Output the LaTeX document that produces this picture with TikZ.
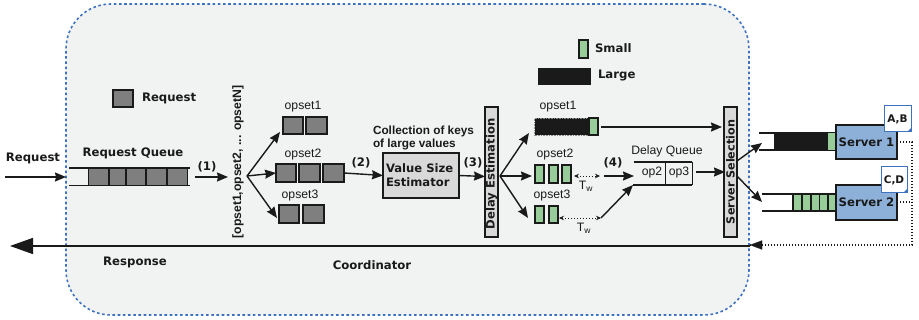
\documentclass[tikz,border=0pt]{standalone}
\usepackage{fontspec}
\setmainfont{DejaVu Sans}
\newfontfamily\lib{Liberation Sans}
\usetikzlibrary{arrows.meta}
\definecolor{ink}{HTML}{1A1A1A}
\definecolor{bgc}{HTML}{F1F3F3}
\definecolor{dashblue}{HTML}{3F72BE}
\definecolor{reqgrey}{HTML}{7F7F7F}
\definecolor{smallg}{HTML}{98CC98}
\definecolor{boxgrey}{HTML}{D9D9D9}
\definecolor{srv}{HTML}{8DB0D8}
\newcommand{\bx}[7]{%
  \pgfmathsetmacro\cxx{(#2+#4)/2}\pgfmathsetmacro\cyy{(#3+#5)/2}%
  \pgfmathsetmacro\wdd{(#4-#2)}\pgfmathsetmacro\htt{(#5-#3)}%
  \node[#6,minimum width=\wdd pt,minimum height=\htt pt] (#1) at (\cxx,\cyy) {#7};}
\tikzset{
  x=1pt,y=-1pt,
  base/.style={inner sep=0pt,outer sep=0pt,text=ink},
  req/.style={base,draw=ink,line width=1.2pt,fill=reqgrey},
  sml/.style={base,draw=ink,line width=1.2pt,fill=smallg},
  lrg/.style={base,fill=ink},
  grey/.style={base,draw=ink,line width=1.2pt,fill=boxgrey},
  server/.style={base,draw=ink,line width=1.3pt,fill=srv,font=\bfseries\fontsize{11.7}{12}\selectfont},
  note/.style={base,draw=dashblue,line width=1pt,fill=white,font=\bfseries\fontsize{10.5}{11}\selectfont},
  lab/.style={base,font=\bfseries\fontsize{11.7}{12}\selectfont},
  ops/.style={base,font=\lib\fontsize{12.2}{13}\selectfont},
  arr/.style={draw=ink,line width=1.4pt,-{Stealth[length=11pt,width=9pt,inset=1pt]}},
  ln/.style={draw=ink,line width=1.3pt},
  dotl/.style={draw=ink,line width=1.1pt,dash pattern=on 1.4pt off 1.6pt},
  twoway/.style={draw=ink,line width=.7pt,dash pattern=on 1.2pt off 1.8pt,{Stealth[length=5pt,width=4.5pt]}-{Stealth[length=5pt,width=4.5pt]}},
}
\begin{document}
\begin{tikzpicture}
\useasboundingbox (0,0) rectangle (919,320);
\bx{coord}{66}{4}{749}{315}{base,draw=dashblue,fill=bgc,line width=1.6pt,dash pattern=on 2.6pt off 2.6pt,rounded corners=45pt}{}

% legend
\bx{legreq}{113}{90}{133}{107}{req}{}
\node[lab,anchor=west] (legreqt) at (142,98) {Request};
\bx{legs}{579}{40}{588}{58}{sml}{}
\node[lab,anchor=west] (legst) at (595,48.5) {Small};
\bx{legl}{538}{68}{591}{85}{lrg}{}
\node[lab,anchor=west] (leglt) at (598,76) {Large};

% request queue
\node[lab] (reqin) at (33,158) {Request};
\coordinate (reqstart) at (5,177);
\coordinate (reqend) at (66,177);
\draw[arr] (reqstart) -- (reqend);
\node[lab] (rqt) at (133,153) {Request Queue};
\coordinate (qa1) at (69,168); \coordinate (qa2) at (190,168);
\coordinate (qb1) at (69,185.5); \coordinate (qb2) at (190,185.5);
\draw[ln] (qa1) -- (qa2);
\draw[ln] (qb1) -- (qb2);
\bx{r1}{88.5}{168}{109}{185.5}{req}{}
\bx{r2}{109}{168}{126}{185.5}{req}{}
\bx{r3}{126}{168}{146}{185.5}{req}{}
\bx{r4}{146}{168}{167}{185.5}{req}{}
\bx{r5}{167}{168}{187.5}{185.5}{req}{}
\node[lab] (l1) at (207,167) {(1)};
\coordinate (a1s) at (195,177); \coordinate (a1e) at (228,177);
\draw[arr] (a1s) -- (a1e);
\node[base,rotate=90,font=\lib\fontsize{12.2}{13}\selectfont] (opsetlist) at (238,162) {\textbf{[opset1,opset2, ... opsetN]}};

% fan 1
\coordinate (f1) at (247,176);
\coordinate (f1a) at (280,132); \coordinate (f1c) at (277,218);
\bx{a1}{283}{117}{303}{134}{req}{}
\bx{a2}{306}{117}{327}{134}{req}{}
\node[ops] (opa) at (303,107) {opset1};
\bx{b1}{276}{164}{296}{182}{req}{}
\bx{b2}{299}{164}{320}{182}{req}{}
\bx{b3}{323}{164}{344}{182}{req}{}
\node[ops] (opb) at (303,155) {opset2};
\bx{c1}{279}{205}{299}{223}{req}{}
\bx{c2}{303}{205}{324}{223}{req}{}
\node[ops] (opc) at (300,196) {opset3};
\draw[arr] (f1) -- (f1a);
\draw[arr] (f1) -- (b1.west);
\draw[arr] (f1) -- (f1c);

% value size estimator
\node[base,anchor=west,font=\bfseries\lib\fontsize{11.8}{12}\selectfont] (coll1) at (373,131) {Collection of keys};
\node[base,anchor=west,font=\bfseries\lib\fontsize{11.8}{12}\selectfont] (coll2) at (373,144) {of large values};
\bx{vse}{383}{153}{459}{198}{grey}{}
\node[base,anchor=west,align=left,font=\bfseries\fontsize{11.6}{14}\selectfont] (vset) at (386,175.5) {Value Size\\Estimator};
\node[lab] (l2) at (361,163) {(2)};
\draw[arr] (b3.east) -- (vse.west);
\bx{de}{485}{107}{498}{237}{grey}{}
\node[base,rotate=90,font=\bfseries\fontsize{11.6}{12}\selectfont] (det) at (491.5,174) {Delay Estimation};
\node[lab] (l3) at (473,163) {(3)};
\coordinate (dein) at (485,176.5);
\draw[arr] (vse.east) -- (dein);

% fan 2
\coordinate (f2) at (500,176);
\coordinate (f2a) at (529,133); \coordinate (f2c) at (528,218); \coordinate (f2b) at (532,176);
\draw[arr] (f2) -- (f2a);
\draw[arr] (f2) -- (f2b);
\draw[arr] (f2) -- (f2c);
\bx{d1}{534.5}{118}{588}{135}{lrg,draw=ink!50,densely dotted,line width=.6pt}{}
\bx{d2}{589}{118}{598}{135}{sml}{}
\node[ops] (opd) at (558,107) {opset1};
\bx{e1}{535}{165}{544}{183}{sml}{}
\bx{e2}{549}{165}{558}{183}{sml}{}
\bx{e3}{562}{165}{571}{183}{sml}{}
\node[ops] (ope) at (555,155) {opset2};
\bx{g1}{535}{206}{544}{223}{sml}{}
\bx{g2}{549}{206}{558}{223}{sml}{}
\node[ops] (opg) at (552,196) {opset3};
\coordinate (tw1a) at (574,176); \coordinate (tw1b) at (600,176);
\coordinate (tw2a) at (559,218); \coordinate (tw2b) at (601,218);
\draw[twoway] (tw1a) -- (tw1b);
\draw[twoway] (tw2a) -- (tw2b);
\node[ops] (tw1) at (586,186) {T\textsubscript{w}};
\node[ops] (tw2) at (584,228) {T\textsubscript{w}};
\node[lab] (l4) at (613,163) {(4)};

% delay queue
\node[ops] (dqt) at (667,151) {Delay Queue};
\coordinate (dqa1) at (634,162); \coordinate (dqa2) at (692,162);
\coordinate (dqb1) at (633,185); \coordinate (dqb2) at (692,185);
\coordinate (dqm1) at (665,162); \coordinate (dqm2) at (665,185);
\draw[ln] (dqa1) -- (dqa2);
\draw[ln] (dqb1) -- (dqb2);
\draw[draw=ink,line width=.8pt] (dqm1) -- (dqm2);
\draw[draw=ink,line width=.8pt] (dqa2) -- (dqb2);
\node[ops] (op2) at (652,173) {op2};
\node[ops] (op3) at (679,173) {op3};
\coordinate (a4s) at (604,176); \coordinate (a4e) at (634,176);
\draw[arr] (a4s) -- (a4e);
\coordinate (a5e) at (633,185);
\draw[arr] (tw2b) -- (a5e);

% server selection
\bx{ss}{724}{107}{737}{237}{grey}{}
\node[base,rotate=90,font=\bfseries\fontsize{11.2}{12}\selectfont] (sst) at (730.5,172) {Server Selection};
\coordinate (d1end) at (601,127); \coordinate (ssin1) at (722,127);
\draw[arr] (d1end) -- (ssin1);
\coordinate (dqout) at (696,172); \coordinate (ssin2) at (725,172);
\draw[arr] (dqout) -- (ssin2);
\coordinate (f3a) at (737,161); \coordinate (f3b) at (737,176);
\coordinate (s1in) at (762,143); \coordinate (s2in) at (762,202);
\draw[arr] (f3a) -- (s1in);
\draw[arr] (f3b) -- (s2in);

% servers
\coordinate (qs1a) at (759,133); \coordinate (qs1ae) at (836,133);
\coordinate (qs1b) at (759,150); \coordinate (qs1be) at (836,150);
\draw[ln] (qs1a) -- (qs1ae);
\draw[ln] (qs1b) -- (qs1be);
\bx{qb}{774}{133}{828}{150}{lrg}{}
\bx{qg}{828}{133}{836}{150}{base,fill=smallg}{}
\coordinate (qs2a) at (762,194); \coordinate (qs2ae) at (836,194);
\coordinate (qs2b) at (762,211); \coordinate (qs2be) at (836,211);
\draw[ln] (qs2a) -- (qs2ae);
\draw[ln] (qs2b) -- (qs2be);
\bx{h1}{793}{194}{802}{211}{sml}{}
\bx{h2}{802}{194}{811}{211}{sml}{}
\bx{h3}{811}{194}{819.5}{211}{sml}{}
\bx{h4}{819.5}{194}{828}{211}{sml}{}
\bx{h5}{828}{194}{836}{211}{sml}{}
\bx{s1}{836}{125}{897}{159}{server}{Server 1}
\bx{s2}{836}{185}{897}{220}{server}{Server 2}
\bx{n1}{884}{106}{911}{132}{note}{A,B}
\bx{n2}{881}{167}{907}{193}{note}{C,D}
\fill[dashblue] (n1.south east) -- ++(0,-4) -- ++(-4,4) -- cycle;
\fill[dashblue] (n2.south east) -- ++(0,-4) -- ++(-4,4) -- cycle;

% return paths
\coordinate (ret) at (912,142);
\coordinate (retj) at (912,202);
\coordinate (retb) at (912,245);
\coordinate (rettip) at (750,245);
\coordinate (resp0) at (750,246);
\coordinate (resp1) at (10,246);
\draw[dotl] (s1.east |- ret) -- (ret) -- (retb) -- (rettip);
\draw[dotl] (s2.east |- retj) -- (retj);
\draw[draw=ink,fill=ink,line width=.1pt] (rettip) -- ++(12,-4.5) -- ++(0,9) -- cycle;
\draw[draw=ink,line width=1.5pt,-{Stealth[length=23pt,width=16pt,inset=0pt]}] (resp0) -- (resp1);
\node[lab] (resp) at (135,262) {Response};
\node[lab] (coordt) at (372,265) {Coordinator};
\end{tikzpicture}
\end{document}
